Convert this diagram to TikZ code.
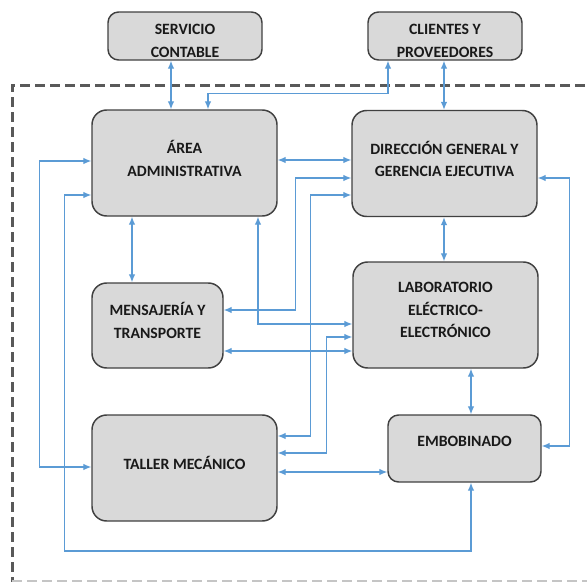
\documentclass[tikz,border=0pt]{standalone}
\usepackage{fontspec}
\setmainfont{Carlito}
\usetikzlibrary{arrows.meta}
\definecolor{boxgray}{HTML}{D9D9D9}
\definecolor{edgegray}{HTML}{404040}
\definecolor{linkblue}{HTML}{5B9BD5}
\definecolor{framegray}{HTML}{595959}

\begin{document}
\begin{tikzpicture}[x=0.75pt, y=-0.75pt, >={Latex[length=6pt,width=5pt]},
	area/.style={rectangle, rounded corners=11pt, draw=edgegray, line width=1.1pt, fill=boxgray, align=center, text=black!90, font=\bfseries\fontsize{11.8}{17}\selectfont, minimum width=138.75pt, minimum height=79.5pt, text depth=7pt},
	link/.style={<->, draw=linkblue, line width=0.9pt},
	frame/.style={draw=framegray, line width=2.25pt, dash pattern=on 7.5pt off 3.75pt}]
	\useasboundingbox (0,0) rectangle (587,582);
	% marco de la empresa
	\draw[frame] (600,85) -| (12,590);
	\draw[frame, draw=framegray!35] (12,581) -- (600,581);
	% areas
	\node [area, rounded corners=8pt, minimum width=115.5pt, minimum height=36pt, inner ysep=0pt, text depth=0pt, text height=32pt] (contable) at (185,36) {SERVICIO\\CONTABLE};
	\node [area, rounded corners=8pt, minimum width=115.5pt, minimum height=36pt, inner ysep=0pt, text depth=0pt, text height=32pt] (clientes) at (445,36) {CLIENTES Y\\PROVEEDORES};
	\node [area] (admin) at (184.5,163) {ÁREA\\ADMINISTRATIVA};
	\node [area] (direccion) at (444.5,163.5) {DIRECCIÓN GENERAL Y\\GERENCIA EJECUTIVA};
	\node [area, minimum width=98.25pt, minimum height=63.75pt, text depth=8pt] (mensajeria) at (157.5,325.5) {MENSAJERÍA Y\\TRANSPORTE};
	\node [area, text depth=7.5pt] (lab) at (445.5,315) {LABORATORIO\\ELÉCTRICO-\\ELECTRÓNICO};
	\node [area, text depth=7.5pt] (taller) at (184.5,468) {TALLER MECÁNICO};
	\node [area, rounded corners=8pt, minimum width=114.75pt, minimum height=50.25pt, text depth=10.5pt] (embobinado) at (464.5,448.5) {EMBOBINADO};
	% enlaces
	\draw[link] (contable.south -| 171,0) -- (admin.north -| 171,0);
	\draw[link] (clientes.south -| 388,0) -- ++(0,33) -| (admin.north -| 208,0);
	\draw[link] (clientes.south -| 444,0) -- (direccion.north -| 444,0);
	\draw[link] (admin.east |- 0,160) -- (direccion.west |- 0,160);
	\draw[link] (admin.west |- 0,161) -- ++(-52,0) |- (taller.west |- 0,467);
	\draw[link] (admin.west |- 0,195) -- ++(-27,0) -- ++(0,356) -| (embobinado.south -| 471,0);
	\draw[link] (admin.south -| 132,0) -- (mensajeria.north -| 132,0);
	\draw[link] (admin.south -| 258,0) |- (lab.west |- 0,324);
	\draw[link] (direccion.south -| 444,0) -- (lab.north -| 444,0);
	\draw[link] (direccion.east |- 0,178) -- ++(32,0) |- (embobinado.east |- 0,446);
	\draw[link] (mensajeria.east |- 0,310) -- ++(72,0) |- (direccion.west |- 0,178);
	\draw[link] (direccion.west |- 0,195) -- ++(-41,0) |- (taller.east |- 0,436);
	\draw[link] (lab.west |- 0,337) -- ++(-26,0) |- (taller.east |- 0,453);
	\draw[link] (mensajeria.east |- 0,351) -- (lab.west |- 0,351);
	\draw[link] (lab.south -| 471,0) -- (embobinado.north -| 471,0);
	\draw[link] (taller.east |- 0,472) -- (embobinado.west |- 0,472);
\end{tikzpicture}
\end{document}
